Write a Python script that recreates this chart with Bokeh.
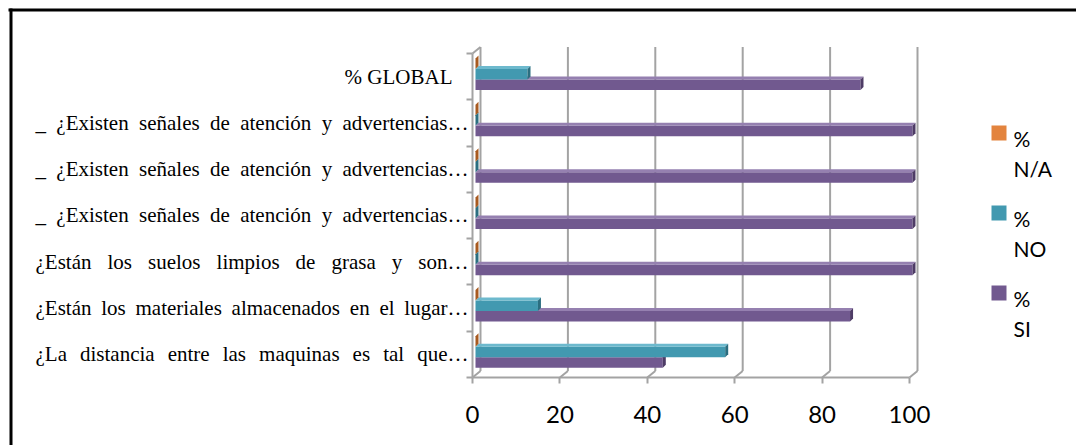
from bokeh.plotting import figure
from bokeh.models import Range1d, FixedTicker, ColumnDataSource, LabelSet
from bokeh.core.properties import value
from bokeh.embed import file_html
from bokeh.resources import INLINE

# ---- data -------------------------------------------------------------
categories = [
    "¿La distancia entre las maquinas es tal que…",
    "¿Están los materiales almacenados en el lugar…",
    "¿Están los suelos limpios de grasa y son…",
    "_ ¿Existen señales de atención y advertencias…",
    "_ ¿Existen señales de atención y advertencias…",
    "_ ¿Existen señales de atención y advertencias…",
    "% GLOBAL",
]
pct_si = [42.86, 85.71, 100, 100, 100, 100, 88.10]
pct_no = [57.14, 14.29, 0, 0, 0, 0, 11.90]
pct_na = [0, 0, 0, 0, 0, 0, 0]
legend_lines = [["%", "N/A"], ["%", "NO"], ["%", "SI"]]
x_ticks = [0, 20, 40, 60, 80, 100]

# ---- layout constants (pixels) ----------------------------------------
W, H = 1076, 445
LEFT = 472       # canvas x of value 0 on the front plane
BOTTOM = 377     # canvas y of the floor's front edge
PPU = 4.37       # pixels per percentage point
BAND = 46.29     # pixels per category band
n_cat = len(categories)


def cx(px):
    """canvas x (pixels) -> data x"""
    return (px - LEFT) / PPU


def cy(py):
    """canvas y (pixels, downwards) -> data y"""
    return (BOTTOM - py) / BAND


p = figure(width=W, height=H,
           x_range=Range1d(cx(0), cx(W)), y_range=Range1d(cy(H), cy(0)),
           output_backend="svg", toolbar_location=None,
           min_border_left=0, min_border_right=0, min_border_top=0,
           min_border_bottom=0)
p.outline_line_color = None
p.grid.visible = False
p.background_fill_color = "white"
p.border_fill_color = "white"

GRID = "#a3a3a3"

# value axis, pinned to the floor's front edge
xa = p.xaxis[0]
xa.fixed_location = 0
xa.ticker = FixedTicker(ticks=x_ticks)
xa.axis_line_color = None
xa.major_tick_line_color = GRID
xa.major_tick_line_width = 2
xa.major_tick_out = 6
xa.major_tick_in = 0
xa.minor_tick_line_color = None
xa.major_label_text_font = "Lato"
xa.major_label_text_font_size = "24px"
xa.major_label_text_color = "black"
xa.major_label_standoff = 22

# category axis: ticks on the band boundaries; the texts are set word by word below
ya = p.yaxis[0]
ya.fixed_location = 0
ya.ticker = FixedTicker(ticks=list(range(n_cat + 1)))
ya.major_label_overrides = {i: "" for i in range(n_cat + 1)}
ya.axis_line_color = None
ya.major_tick_line_color = GRID
ya.major_tick_line_width = 2
ya.major_tick_out = 6
ya.major_tick_in = 0
ya.minor_tick_line_color = None

# ---- 3-D walls and floor ------------------------------------------------
wdx = 8 / PPU
wdy = 6.5 / BAND
bx = [t + wdx for t in x_ticks]
p.segment(x0=bx, y0=[wdy] * len(bx), x1=bx, y1=[n_cat + wdy] * len(bx),
          line_color=GRID, line_width=2)
p.segment(x0=x_ticks, y0=[0] * len(x_ticks), x1=bx, y1=[wdy] * len(bx),
          line_color=GRID, line_width=2)
p.segment(x0=[x_ticks[0], x_ticks[0], x_ticks[0]], y0=[0, 0, n_cat],
          x1=[x_ticks[-1], x_ticks[0], x_ticks[0] + wdx], y1=[0, n_cat, n_cat + wdy],
          line_color=GRID, line_width=2)

# ---- 3-D bars -------------------------------------------------------------
bdx = 3 / PPU
bdy = 3 / BAND
bx0 = 3 / PPU
bh = 10.5 / BAND
lift = 2.3 / BAND

series = [  # drawn bottom to top inside each band
    ("si", pct_si, "#71598f", "#9580b0", "#4e3c66"),
    ("no", pct_no, "#4299b0", "#6db9cd", "#2b6e80"),
    ("na", pct_na, "#e3843e", "#f0a66c", "#a85a20"),
]
legend_colors = {}
for k, (key, vals, c_front, c_top, c_side) in enumerate(series):
    bottoms = [i + 0.5 + lift - 1.5 * bh + k * bh for i in range(n_cat)]
    tops = [b + bh for b in bottoms]
    rights = [bx0 + v for v in vals]
    src = ColumnDataSource(dict(left=[bx0] * n_cat, right=rights, bottom=bottoms, top=tops))
    top_xs = [[bx0, r, r + bdx, bx0 + bdx] for r in rights]
    top_ys = [[t, t, t + bdy, t + bdy] for t in tops]
    side_xs = [[r, r, r + bdx, r + bdx] for r in rights]
    side_ys = [[b, t, t + bdy, b + bdy] for b, t in zip(bottoms, tops)]
    p.quad(left="left", right="right", bottom="bottom", top="top", source=src,
           fill_color=c_front, line_color=None)
    p.patches(xs=top_xs, ys=top_ys, fill_color=c_top, line_color=None)
    p.patches(xs=side_xs, ys=side_ys, fill_color=c_side, line_color=None)
    legend_colors[key] = c_front

# ---- category labels, justified word by word ---------------------------------
TIMES_W = {
    " ": 250, "¿": 444, "_": 500, "%": 833, "…": 1000,
    "a": 444, "b": 500, "c": 444, "d": 500, "e": 444, "f": 333, "g": 500,
    "h": 500, "i": 278, "j": 278, "k": 500, "l": 278, "m": 778, "n": 500,
    "o": 500, "p": 500, "q": 500, "r": 333, "s": 389, "t": 278, "u": 500,
    "v": 500, "w": 722, "x": 500, "y": 500, "z": 444,
    "á": 444, "é": 444, "í": 278, "ó": 500, "ú": 500, "ñ": 500,
    "A": 722, "B": 667, "E": 611, "G": 722, "L": 611, "O": 722,
}
FS = 21
LBL_L, LBL_R, PLAIN_R = 35, 468, 452


def text_w(s):
    return sum(TIMES_W.get(c, 500) for c in s) * FS / 1000


wx, wy, wt = [], [], []
for i, lab in enumerate(categories):
    words = lab.split(" ")
    if lab.endswith("…") and len(words) > 1:
        widths = [text_w(w) for w in words]
        gap = (LBL_R - LBL_L - sum(widths)) / (len(words) - 1)
        x = LBL_L
        for w, ww in zip(words, widths):
            wx.append(cx(x))
            wy.append(i + 0.5)
            wt.append(w)
            x += ww + gap
    else:
        wx.append(cx(PLAIN_R - text_w(lab)))
        wy.append(i + 0.5)
        wt.append(lab)

p.add_layout(LabelSet(x="x", y="y", text="text",
                      source=ColumnDataSource(dict(x=wx, y=wy, text=wt)),
                      text_font=value("Liberation Serif"), text_font_size=f"{FS}px",
                      text_color="black", text_align="left", text_baseline="middle"))

# ---- legend: swatch + two-line label per series --------------------------------
LEG_X, LEG_TOP, LEG_STEP, SW = 991, 125, 80, 15
for j, key in enumerate(["na", "no", "si"]):
    top = LEG_TOP + j * LEG_STEP
    p.rect(x=[cx(LEG_X + SW / 2)], y=[cy(top + SW / 2)], width=SW, height=SW,
           width_units="screen", height_units="screen",
           fill_color=legend_colors[key], line_color=None)
    p.text(x=[cx(LEG_X + SW + 7)] * 2, y=[cy(top + SW - 2), cy(top + SW + 28)],
           text=legend_lines[j], text_font=value("Lato"), text_font_size="21px",
           text_color="black", text_align="left", text_baseline="alphabetic")

# ---- frame lines along the top and left edges ---------------------------------
p.segment(x0=[cx(8), cx(10.5)], y0=[cy(9.5), cy(8)],
          x1=[cx(W), cx(10.5)], y1=[cy(9.5), cy(H)],
          line_color="black", line_width=3)

open("out.html", "w").write(file_html(p, INLINE))
